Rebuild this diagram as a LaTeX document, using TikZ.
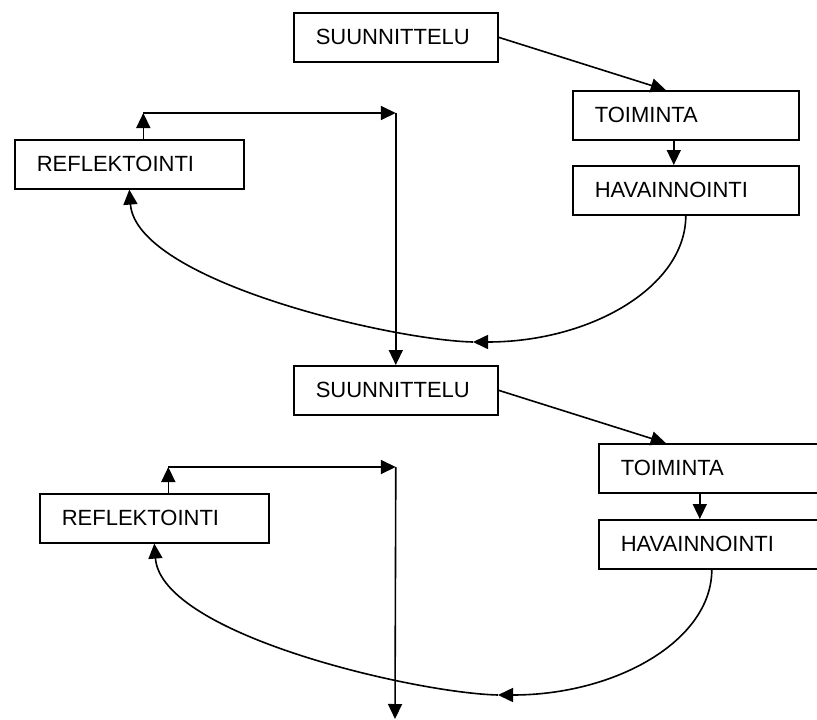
\documentclass[tikz,border=0pt]{standalone}
\usepackage{fontspec}
\setmainfont{Liberation Sans}
\usepackage{tikz}
\usetikzlibrary{arrows.meta, calc, positioning}

\begin{document}
\begin{tikzpicture}[>={Triangle[length=15pt,width=14pt]}, x=1pt, y=-1pt, line width=1.6pt]
	\tikzstyle{box} = [draw, rectangle, anchor=north west, minimum height=49pt, inner xsep=22pt, inner ysep=0pt, align=left, font=\fontsize{22}{26}\selectfont]
	\tikzstyle{short} = [box, text width=160pt]
	\tikzstyle{long} = [box, text width=182pt]

	\useasboundingbox (0,0) rectangle (817,720);
	\clip (0,0) rectangle (817,720);

	% first round
	\node[short] (s1) at (293,12) {SUUNNITTELU};
	\node[long] (t1) at (572,90) {TOIMINTA};
	\node[long] (h1) at (572,165) {HAVAINNOINTI};
	\node[long, text width=185pt] (r1) at (14,139) {REFLEKTOINTI};

	% second round
	\node[short] (s2) at (293,365) {SUUNNITTELU};
	\node[long] (t2) at (598,443) {TOIMINTA};
	\node[long] (h2) at (598,519) {HAVAINNOINTI};
	\node[long, text width=185pt] (r2) at (39,493) {REFLEKTOINTI};

	\coordinate (k1) at ([xshift=14pt, yshift=26pt]r1.north);
	\coordinate (j1) at (k1 -| s2.north);
	\coordinate (m1) at (473,342);
	\coordinate (k2) at ([xshift=14pt, yshift=26pt]r2.north);
	\coordinate (j2) at (k2 -| s2.north);
	\coordinate (m2) at (498,695);
	\coordinate (e2) at (395,719);

	\path[->]
		(s1.east) edge ([xshift=-20pt]t1.north)
		([xshift=-12pt]t1.south) edge ([xshift=-12pt]h1.north)
		([xshift=14pt]r1.north) edge (k1)
		(k1) edge (j1)
		(j1) edge (s2.north)

		(s2.east) edge ([xshift=-46pt]t2.north)
		([xshift=-12pt]t2.south) edge ([xshift=-12pt]h2.north)
		([xshift=14pt]r2.north) edge (k2)
		(k2) edge (j2)
		(j2) edge (e2)
	;

	\draw[->] (h1.south) .. controls +(0,71) and +(118,0) .. (m1);
	\draw[->] (m1) .. controls +(-83,-2) and +(7,91) .. (r1.south);
	\draw[->] (h2.south) .. controls +(0,71) and +(118,0) .. (m2);
	\draw[->] (m2) .. controls +(-83,-2) and +(7,91) .. (r2.south);
\end{tikzpicture}
\end{document}
